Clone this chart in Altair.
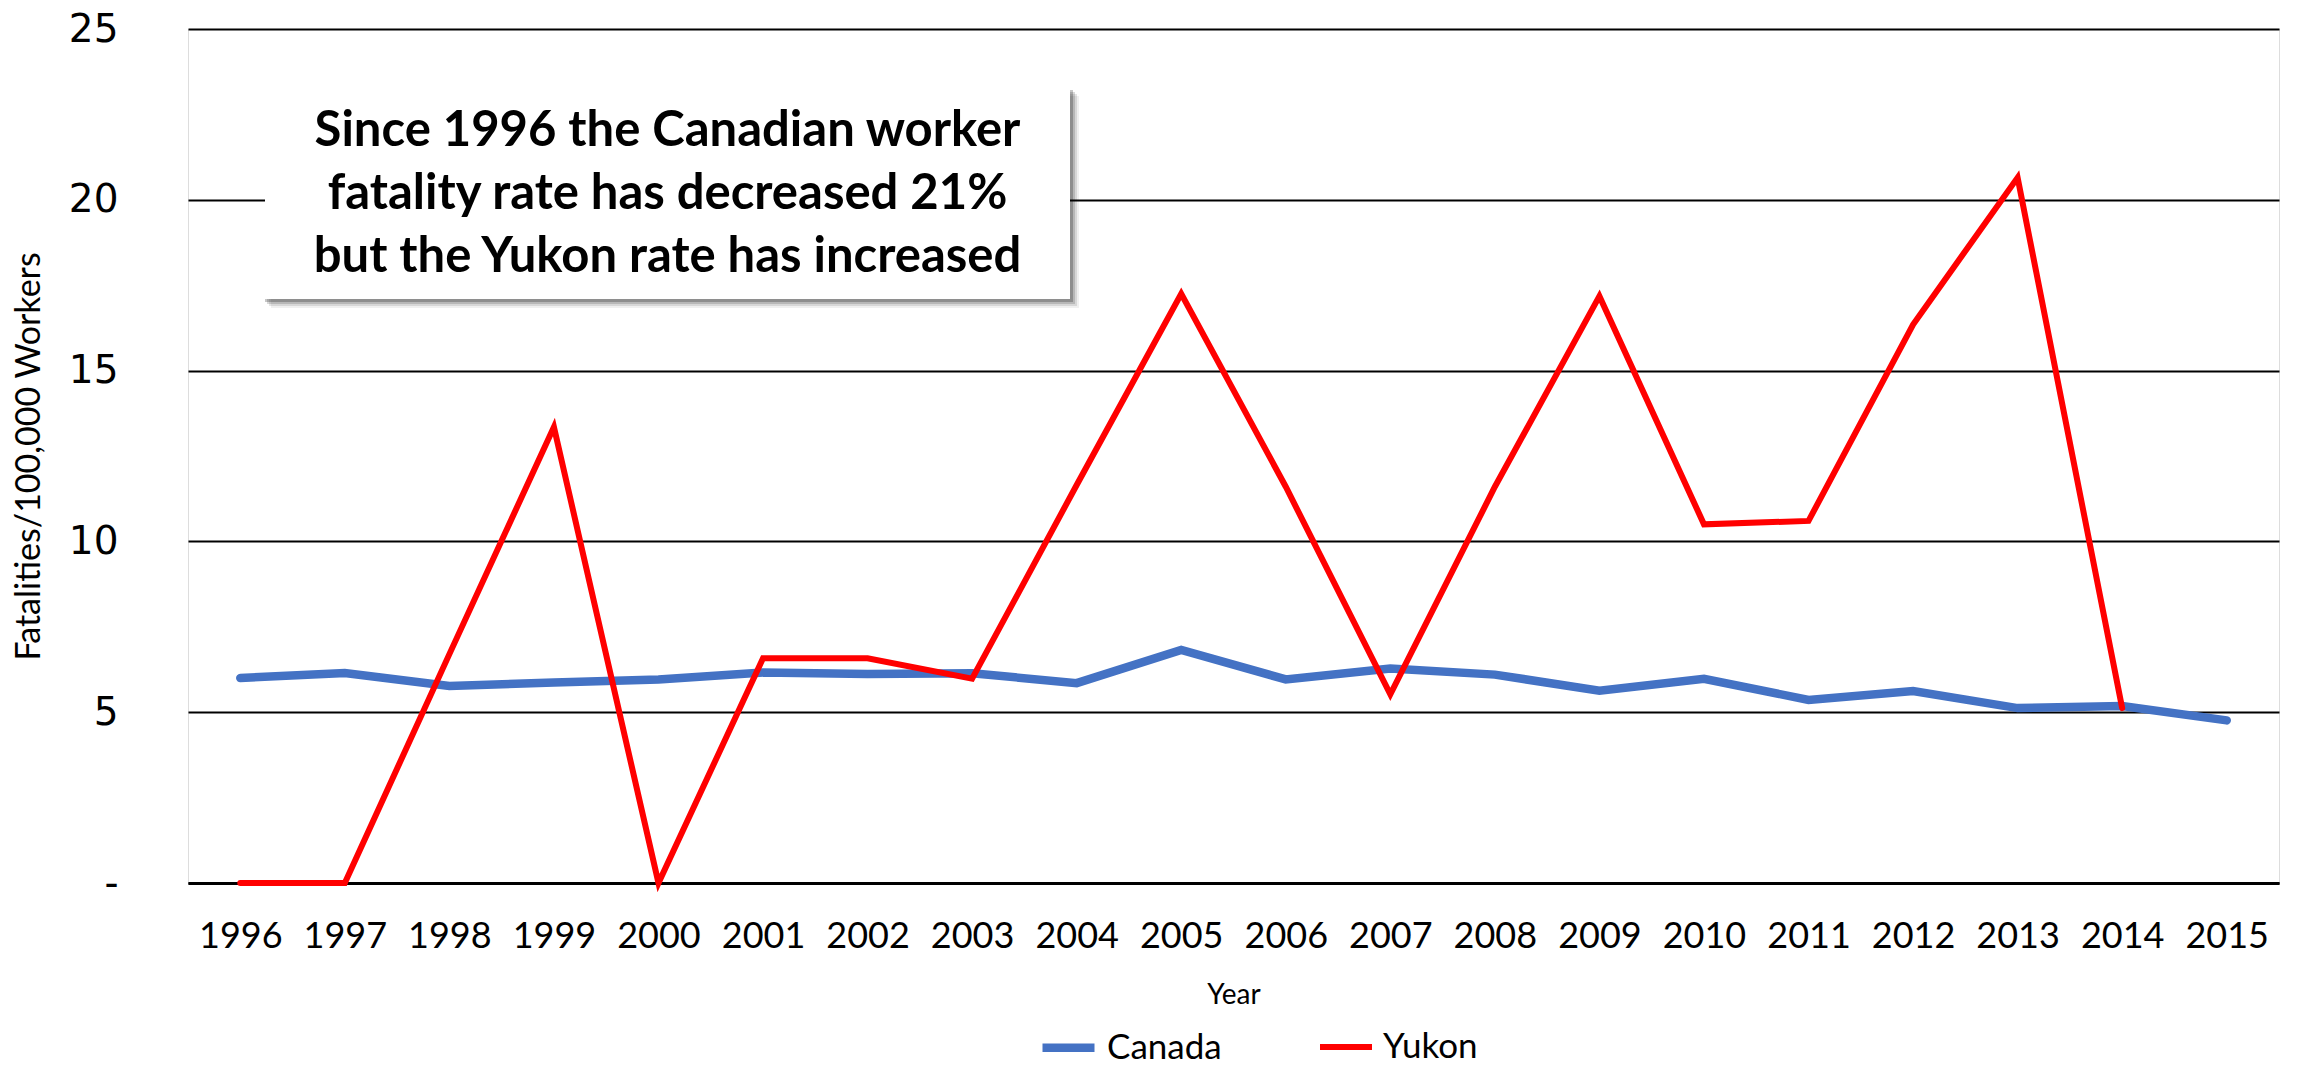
import altair as alt
import pandas as pd

years = [str(y) for y in range(1996, 2016)]
canada = [6.0, 6.15, 5.77, 5.87, 5.96, 6.16, 6.12, 6.14, 5.85, 6.82,
          5.96, 6.28, 6.1, 5.63, 5.98, 5.36, 5.62, 5.12, 5.18, 4.76]
yukon_years = [str(y) for y in range(1996, 2015)]
yukon = [0, 0, 6.7, 13.35, 0, 6.58, 6.58, 5.98, 11.65, 17.25,
         11.6, 5.52, 11.6, 17.18, 10.5, 10.6, 16.35, 20.65, 5.12]
series_names = ["Canada", "Yukon"]
series_colors = ["#4472C4", "#FF0000"]
note_lines = ["Since 1996 the Canadian worker",
              "fatality rate has decreased 21%",
              "but the Yukon rate has increased"]

df = pd.DataFrame({
    "Year": years + yukon_years,
    "Rate": canada + yukon,
    "Series": ["Canada"] * len(canada) + ["Yukon"] * len(yukon),
})

FONT = "Lato"
W, H = 2091, 854

lines = alt.Chart(df).mark_line(strokeCap="round", strokeJoin="miter").encode(
    x=alt.X("Year:O", sort=years,
            axis=alt.Axis(title="Year", labelAngle=0, labelFont=FONT, labelFontSize=36,
                          labelColor="#000", labelBaseline="middle", labelPadding=53,
                          ticks=False, domain=True, domainColor="#000", domainWidth=3,
                          grid=False, titleFont=FONT, titleFontSize=28,
                          titleFontWeight="normal", titleColor="#000",
                          titleY=112, titleBaseline="middle")),
    y=alt.Y("Rate:Q", scale=alt.Scale(domain=[0, 25], nice=False),
            axis=alt.Axis(title="Fatalities/100,000 Workers", values=[0, 5, 10, 15, 20, 25],
                          labelExpr="datum.value === 0 ? '-\u2002' : datum.label",
                          labelFont="DejaVu Sans", labelFontSize=39, labelColor="#000",
                          labelPadding=70, ticks=False, domain=False,
                          grid=True, gridColor="#000", gridWidth=2,
                          titleFont=FONT, titleFontSize=34, titleFontWeight="normal",
                          titleColor="#000", titleX=-159, titleY=H / 2,
                          titleAngle=-90, titleBaseline="middle", titleAlign="center")),
    color=alt.Color("Series:N", scale=alt.Scale(domain=series_names, range=series_colors),
                    legend=alt.Legend(title=None, orient="none", legendX=850, legendY=988,
                                      direction="horizontal", symbolType="stroke",
                                      symbolSize=2704, symbolStrokeWidth=8,
                                      labelFont=FONT, labelFontSize=35, labelColor="#000",
                                      labelOffset=8, columnPadding=86)),
    strokeWidth=alt.StrokeWidth("Series:N",
                                scale=alt.Scale(domain=series_names, range=[8.5, 6]),
                                legend=None),
)

box_df = pd.DataFrame({"k": [0]})
bx0, bx1, by0, by1 = 265 - 188, 1070 - 188, 85 - 29, 299 - 29
shadows = []
for off, op in [(9, 0.06), (7, 0.1), (5, 0.15), (3, 0.22)]:
    shadows.append(alt.Chart(box_df).mark_rect(color="#000", opacity=op).encode(
        x=alt.value(bx0 + off - 3), x2=alt.value(bx1 + off),
        y=alt.value(by0 + off + 2), y2=alt.value(by1 + off)))
box = alt.Chart(box_df).mark_rect(color="#ffffff").encode(
    x=alt.value(bx0), x2=alt.value(bx1), y=alt.value(by0), y2=alt.value(by1))
note = alt.Chart(box_df).mark_text(
    text=note_lines, font=FONT, fontSize=49, fontWeight="bold", color="#000",
    align="center", baseline="middle", lineHeight=63).encode(
    x=alt.value((bx0 + bx1) / 2), y=alt.value(131 - 29))

chart = alt.layer(lines, *shadows, box, note).properties(
    width=W, height=H,
    autosize=alt.AutoSizeParams(type="none"),
    padding={"left": 188, "top": 29, "right": 29, "bottom": 190},
).configure_view(stroke=None).configure(background="#ffffff")

chart.save("out.html", embed_options={"renderer": "svg", "actions": False})
